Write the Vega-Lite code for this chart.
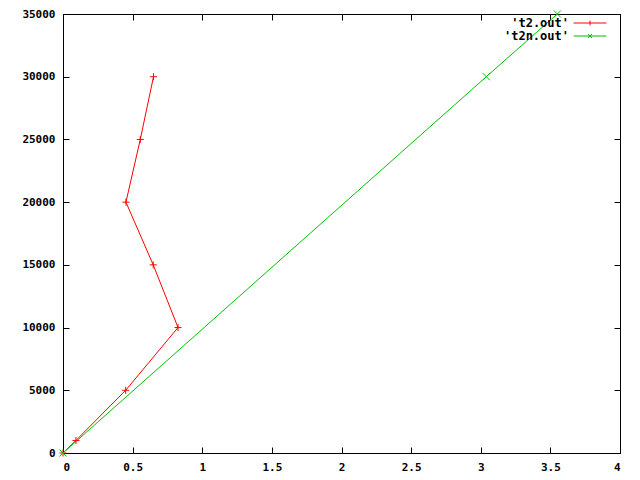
{
  "$schema": "https://vega.github.io/schema/vega-lite/v6.json",
  "width": 557,
  "height": 439,
  "autosize": "none",
  "padding": {"left": 63, "top": 14, "right": 20, "bottom": 27},
  "background": "white",
  "config": {
    "view": {"stroke": "black", "strokeWidth": 1},
    "font": "DejaVu Sans Mono",
    "axis": {
      "grid": false,
      "domain": false,
      "tickColor": "black",
      "tickSize": -6,
      "labelFont": "DejaVu Sans Mono",
      "labelFontWeight": "bold",
      "labelFontSize": 11,
      "labelColor": "black",
      "title": null
    }
  },
  "data": {
    "values": [
      {"s": "'t2.out'", "i": 0, "x": 0, "y": 0},
      {"s": "'t2.out'", "i": 1, "x": 0.093, "y": 1000},
      {"s": "'t2.out'", "i": 2, "x": 0.45, "y": 5000},
      {"s": "'t2.out'", "i": 3, "x": 0.826, "y": 10000},
      {"s": "'t2.out'", "i": 4, "x": 0.648, "y": 15000},
      {"s": "'t2.out'", "i": 5, "x": 0.452, "y": 20000},
      {"s": "'t2.out'", "i": 6, "x": 0.555, "y": 25000},
      {"s": "'t2.out'", "i": 7, "x": 0.65, "y": 30000},
      {"s": "'t2n.out'", "i": 0, "x": 0, "y": 0},
      {"s": "'t2n.out'", "i": 1, "x": 3.04, "y": 30000},
      {"s": "'t2n.out'", "i": 2, "x": 3.55, "y": 35000}
    ]
  },
  "layer": [
    {
      "mark": {"type": "line", "strokeWidth": 1, "clip": true},
      "encoding": {
        "x": {"field": "x", "type": "quantitative", "scale": {"domain": [0, 4], "nice": false, "zero": false},
              "axis": {"orient": "bottom", "values": [0, 0.5, 1, 1.5, 2, 2.5, 3, 3.5, 4], "format": "~g", "labelPadding": 14}},
        "y": {"field": "y", "type": "quantitative", "scale": {"domain": [0, 35000], "nice": false, "zero": false},
              "axis": {"orient": "left", "values": [0, 5000, 10000, 15000, 20000, 25000, 30000, 35000], "format": "d", "labelPadding": 14}},
        "color": {"field": "s", "type": "nominal",
                  "scale": {"domain": ["'t2.out'", "'t2n.out'"], "range": ["#ff0000", "#00c000"]},
                  "legend": {
                    "orient": "none", "legendX": 521, "legendY": 3,
                    "title": null,
                    "symbolType": "M-4.1,0L4.1,0",
                    "symbolSize": 64,
                    "symbolStrokeWidth": 1,
                    "symbolFillColor": "transparent",
                    "labelAlign": "right",
                    "labelOffset": -27,
                    "labelFont": "DejaVu Sans Mono",
                    "labelFontWeight": "bold",
                    "labelFontSize": 12,
                    "labelColor": "black",
                    "rowPadding": 1,
                    "symbolLimit": 0,
                    "encode": {
                      "symbols": {"update": {"shape": {"signal": "datum.value === \"'t2.out'\" ? 'M-4.1,0L4.1,0M0,-0.6L0,0.6' : 'M-4.1,0L4.1,0M-0.5,-0.5L0.5,0.5M-0.5,0.5L0.5,-0.5'"}, "fill": {"value": "transparent"}}}
                    }
                  }},
        "order": {"field": "i", "type": "quantitative"}
      }
    },
    {
      "transform": [{"filter": "datum.s === \"'t2.out'\""}],
      "mark": {"type": "point", "filled": false, "size": 49, "strokeWidth": 1, "opacity": 1, "clip": false, "color": "#ff0000", "shape": "M-1,0L1,0M0,-1L0,1"},
      "encoding": {
        "x": {"field": "x", "type": "quantitative", "axis": null},
        "y": {"field": "y", "type": "quantitative", "axis": null}
      }
    },
    {
      "transform": [{"filter": "datum.s === \"'t2n.out'\""}],
      "mark": {"type": "point", "filled": false, "size": 49, "strokeWidth": 1, "opacity": 1, "clip": false, "color": "#00c000", "shape": "M-1,-1L1,1M-1,1L1,-1"},
      "encoding": {
        "x": {"field": "x", "type": "quantitative", "axis": null},
        "y": {"field": "y", "type": "quantitative", "axis": null}
      }
    },
    {
      "mark": {"type": "point", "opacity": 0},
      "encoding": {
        "x": {"field": "x", "type": "quantitative",
              "axis": {"orient": "top", "labels": false, "values": [0, 0.5, 1, 1.5, 2, 2.5, 3, 3.5, 4]}},
        "y": {"field": "y", "type": "quantitative",
              "axis": {"orient": "right", "labels": false, "values": [0, 5000, 10000, 15000, 20000, 25000, 30000, 35000]}}
      }
    }
  ],
  "resolve": {"axis": {"x": "independent", "y": "independent"}}
}
